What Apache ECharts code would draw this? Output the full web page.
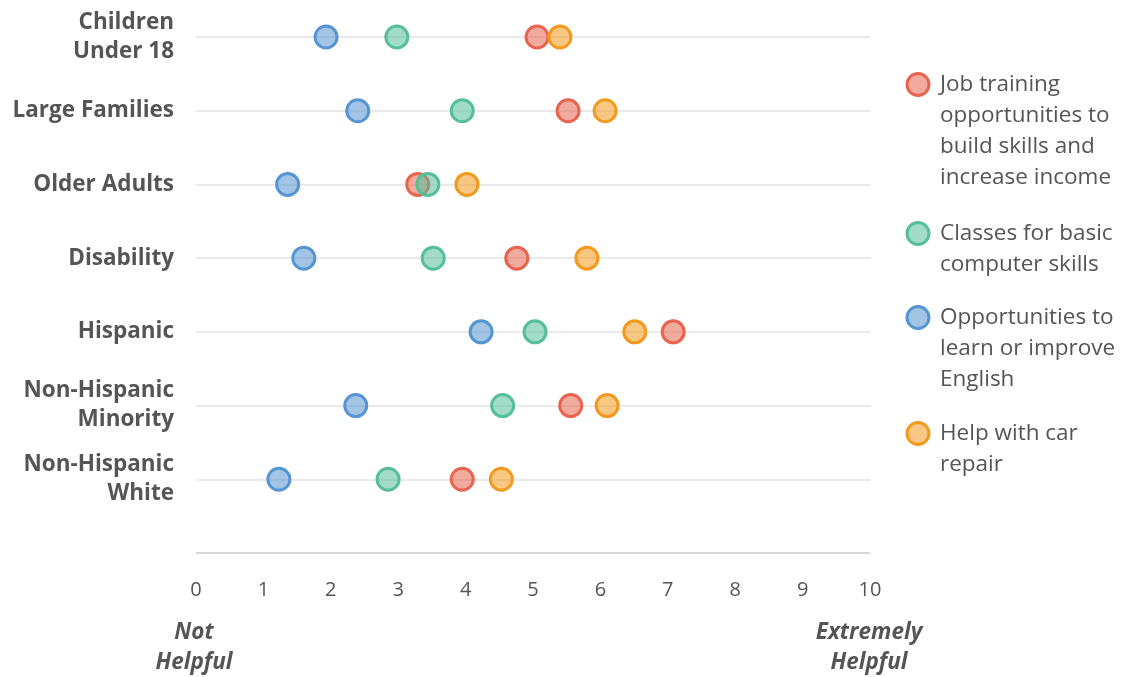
<!DOCTYPE html>
<html>
<head>
<meta charset="utf-8">
<script src="https://cdn.jsdelivr.net/npm/echarts@6/dist/echarts.min.js"></script>
<style>
  html, body { margin: 0; padding: 0; background: #fff; }
  #chart { width: 1125px; height: 677px; }
</style>
</head>
<body>
<div id="chart"></div>
<script>
// Categories (bottom slot empty, then rows from bottom to top)
const categories = ['', 'Non-Hispanic\nWhite', 'Non-Hispanic\nMinority', 'Hispanic', 'Disability', 'Older Adults', 'Large Families', 'Children\nUnder 18'];
// Row order for the values below (top to bottom)
const rows = ['Children\nUnder 18', 'Large Families', 'Older Adults', 'Disability', 'Hispanic', 'Non-Hispanic\nMinority', 'Non-Hispanic\nWhite'];

const seriesNames = ['Job training', 'Classes for basic computer skills', 'Opportunities to learn or improve English', 'Help with car repair'];
const legendLines = [
  ['Job training', 'opportunities to', 'build skills and', 'increase income'],
  ['Classes for basic', 'computer skills'],
  ['Opportunities to', 'learn or improve', 'English'],
  ['Help with car', 'repair']
];

const jobTraining   = [5.06, 5.52, 3.29, 4.76, 7.08, 5.56, 3.95];
const computerSkill = [2.98, 3.95, 3.44, 3.52, 5.03, 4.55, 2.85];
const english       = [1.93, 2.40, 1.36, 1.60, 4.23, 2.37, 1.23];
const carRepair     = [5.40, 6.07, 4.02, 5.80, 6.51, 6.10, 4.53];

const xTicks = [0, 1, 2, 3, 4, 5, 6, 7, 8, 9, 10];

const borderColors = ['#e8644e', '#55bf9a', '#5595d2', '#f39a1e'];
const fillColors = ['rgba(232,100,78,0.55)', 'rgba(85,191,154,0.55)', 'rgba(85,149,210,0.55)', 'rgba(243,154,30,0.55)'];
const legendFills = ['#f2aa9e', '#a2dcc8', '#a2c5e6', '#f8c783'];
const allValues = [jobTraining, computerSkill, english, carRepair];

const chart = echarts.init(document.getElementById('chart'), null, { renderer: 'canvas' });

const series = seriesNames.map((name, i) => ({
  name: name,
  type: 'scatter',
  symbol: 'circle',
  symbolSize: 22,
  itemStyle: { color: fillColors[i], borderColor: borderColors[i], borderWidth: 3, opacity: 1 },
  emphasis: { disabled: true },
  data: rows.map((r, j) => [allValues[i][j], r]),
  z: 2 + i
}));

const lineH = 31;
const fs = 22.5;
const firstLineCenters = [84.5, 233.5, 317.5, 433.5];
const legends = seriesNames.map((name, i) => {
  const lines = legendLines[i];
  const text = lines.map((l, k) => (k === 0 ? '{c|}{g|}{t|' + l + '}' : '{i|' + l + '}')).join('\n');
  return {
    data: [name],
    orient: 'vertical',
    left: 903.5,
    top: firstLineCenters[i] - lineH / 2,
    padding: 0,
    itemWidth: 0,
    itemHeight: 22,
    icon: 'none',
    selectedMode: false,
    formatter: () => text,
    textStyle: {
      fontFamily: 'Open Sans',
      fontSize: fs,
      color: '#555',
      lineHeight: lineH,
      rich: {
        c: {
          width: 19, height: 19,
          backgroundColor: legendFills[i],
          borderColor: borderColors[i],
          borderWidth: 3,
          borderRadius: 9.5,
          verticalAlign: 'middle'
        },
        g: { width: 12.5, height: 10 },
        t: { fontFamily: 'Open Sans', fontSize: fs, color: '#555', lineHeight: lineH },
        i: { fontFamily: 'Open Sans', fontSize: fs, color: '#555', lineHeight: lineH, padding: [0, 0, 0, 31.5] }
      }
    }
  };
});

const option = {
  backgroundColor: '#fff',
  animation: false,
  grid: { left: 196, right: 255, top: 37, bottom: 124, containLabel: false },
  xAxis: {
    type: 'value',
    min: 0,
    max: 10,
    interval: 1,
    axisLine: { show: false },
    axisTick: { show: false },
    splitLine: { show: false },
    axisLabel: {
      margin: 27,
      fontFamily: 'Open Sans',
      fontSize: 20,
      color: '#555',
      formatter: v => (xTicks.indexOf(v) >= 0 ? String(v) : '')
    }
  },
  yAxis: {
    type: 'category',
    data: categories,
    boundaryGap: false,
    axisLine: { show: false },
    axisTick: { show: false },
    splitLine: { show: true, lineStyle: { color: '#e3e3e3', width: 1.5 } },
    axisLabel: {
      margin: 22,
      fontFamily: 'Open Sans',
      fontSize: fs,
      fontWeight: 'bold',
      color: '#555',
      lineHeight: 29,
      align: 'right',
      padding: [5, 0, 0, 0]
    }
  },
  legend: legends,
  graphic: [
    {
      type: 'line',
      shape: { x1: 196, y1: 553, x2: 870, y2: 553 },
      style: { stroke: '#d6d6d6', lineWidth: 2 },
      z: 1
    },
    {
      type: 'text',
      x: 194, y: 618,
      style: {
        text: 'Not\nHelpful',
        textAlign: 'center',
        textVerticalAlign: 'top',
        fontFamily: 'Open Sans',
        fontSize: fs,
        fontWeight: 'bold',
        fontStyle: 'italic',
        lineHeight: 30,
        fill: '#555'
      }
    },
    {
      type: 'text',
      x: 869, y: 618,
      style: {
        text: 'Extremely\nHelpful',
        textAlign: 'center',
        textVerticalAlign: 'top',
        fontFamily: 'Open Sans',
        fontSize: fs,
        fontWeight: 'bold',
        fontStyle: 'italic',
        lineHeight: 30,
        fill: '#555'
      }
    }
  ],
  series: series
};

chart.setOption(option);
</script>
</body>
</html>
